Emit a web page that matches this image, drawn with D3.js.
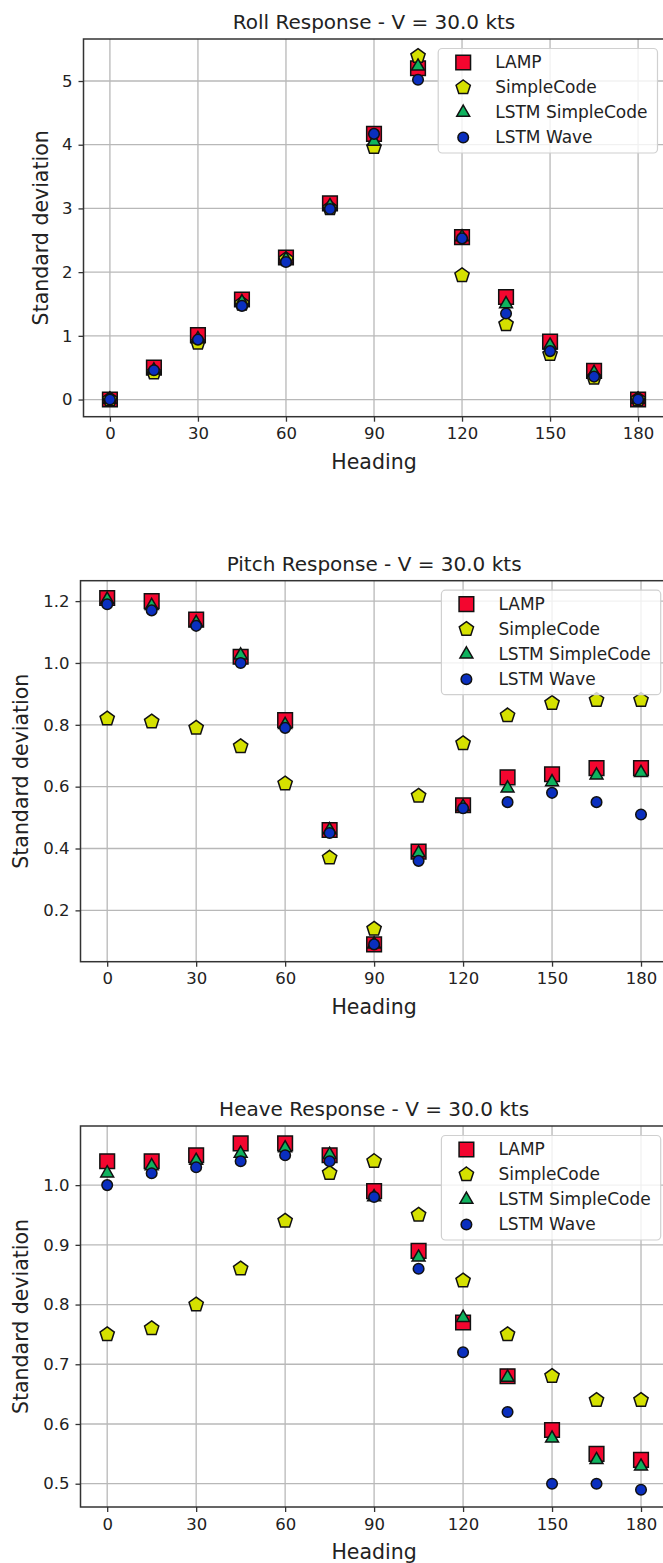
<!DOCTYPE html>
<html>
<head>
<meta charset="utf-8">
<script src="https://cdn.jsdelivr.net/npm/d3@7"></script>
<style>
  body { margin: 0; background: #fff; }
  svg { display: block; font-family: "DejaVu Sans", sans-serif; }
</style>
</head>
<body>
<svg id="chart"></svg>
<script>
// headings (deg)
var headings = [0, 15, 30, 45, 60, 75, 90, 105, 120, 135, 150, 165, 180];
var xTicks = [0, 30, 60, 90, 120, 150, 180];

var seriesNames = ["LAMP", "SimpleCode", "LSTM SimpleCode", "LSTM Wave"];

// roll
var rollLamp       = [0.0, 0.50, 1.01, 1.57, 2.23, 3.08, 4.17, 5.20, 2.55, 1.61, 0.91, 0.45, 0.0];
var rollSimple     = [0.0, 0.42, 0.89, 1.50, 2.20, 3.00, 3.96, 5.39, 1.95, 1.18, 0.71, 0.34, 0.0];
var rollLstmSimple = [0.0, 0.46, 0.95, 1.53, 2.20, 3.04, 4.05, 5.23, 2.55, 1.50, 0.85, 0.42, 0.0];
var rollLstmWave   = [0.0, 0.46, 0.94, 1.47, 2.16, 2.99, 4.17, 5.02, 2.53, 1.35, 0.76, 0.36, 0.0];
var rollTicks = [0, 1, 2, 3, 4, 5];

// pitch
var pitchLamp       = [1.21, 1.20, 1.14, 1.02, 0.815, 0.46, 0.09, 0.39, 0.54, 0.63, 0.64, 0.66, 0.66];
var pitchSimple     = [0.82, 0.81, 0.79, 0.73, 0.61, 0.37, 0.14, 0.57, 0.74, 0.83, 0.87, 0.88, 0.88];
var pitchLstmSimple = [1.205, 1.185, 1.13, 1.025, 0.80, 0.46, 0.09, 0.385, 0.535, 0.595, 0.615, 0.637, 0.645];
var pitchLstmWave   = [1.19, 1.17, 1.12, 1.00, 0.79, 0.45, 0.09, 0.36, 0.53, 0.55, 0.58, 0.55, 0.51];
var pitchTicks = [0.2, 0.4, 0.6, 0.8, 1.0, 1.2];

// heave
var heaveLamp       = [1.04, 1.04, 1.05, 1.07, 1.07, 1.05, 0.99, 0.89, 0.77, 0.68, 0.59, 0.55, 0.54];
var heaveSimple     = [0.75, 0.76, 0.80, 0.86, 0.94, 1.02, 1.04, 0.95, 0.84, 0.75, 0.68, 0.64, 0.64];
var heaveLstmSimple = [1.02, 1.032, 1.041, 1.053, 1.062, 1.051, 0.98, 0.879, 0.778, 0.678, 0.576, 0.54, 0.529];
var heaveLstmWave   = [1.00, 1.02, 1.03, 1.04, 1.05, 1.04, 0.98, 0.86, 0.72, 0.62, 0.50, 0.50, 0.49];
var heaveTicks = [0.5, 0.6, 0.7, 0.8, 0.9, 1.0];

var colors = ["#f3062f", "#d5e100", "#0fb25e", "#0a2fbf"];
var width = 663, height = 1563;

var svg = d3.select("#chart").attr("width", width).attr("height", height);

function pentagon(r) {
  var pts = [];
  for (var i = 0; i < 5; i++) {
    var a = -Math.PI / 2 + i * 2 * Math.PI / 5;
    pts.push([r * Math.cos(a), r * Math.sin(a)]);
  }
  return "M" + pts.map(function(p) { return p[0].toFixed(2) + "," + p[1].toFixed(2); }).join("L") + "Z";
}

var markers = [
  d3.symbol().type(d3.symbolSquare).size(215)(),
  pentagon(7.5),
  d3.symbol().type(d3.symbolTriangle).size(72)(),
  d3.symbol().type(d3.symbolCircle).size(88)()
];

function drawPanel(p) {
  var g = svg.append("g");
  var all = d3.merge(p.series);
  var ext = d3.extent(all), pad = (ext[1] - ext[0]) * 0.05;

  var x = d3.scaleLinear().domain([-9, 189]).range([p.left, p.right]);
  var y = d3.scaleLinear().domain([ext[0] - pad, ext[1] + pad]).range([p.bottom, p.top]);

  // grid
  g.selectAll(".gx").data(xTicks).enter().append("line")
    .attr("x1", function(d) { return x(d); }).attr("x2", function(d) { return x(d); })
    .attr("y1", p.top).attr("y2", p.bottom)
    .attr("stroke", "#b8b8b8").attr("stroke-width", 1.3);
  g.selectAll(".gy").data(p.ticks).enter().append("line")
    .attr("x1", p.left).attr("x2", p.right)
    .attr("y1", function(d) { return y(d); }).attr("y2", function(d) { return y(d); })
    .attr("stroke", "#b8b8b8").attr("stroke-width", 1.3);

  // points
  p.series.forEach(function(vals, si) {
    g.selectAll(".s" + si).data(vals).enter().append("path")
      .attr("d", markers[si])
      .attr("transform", function(d, i) { return "translate(" + x(headings[i]) + "," + y(d) + ")"; })
      .attr("fill", colors[si])
      .attr("stroke", "#111").attr("stroke-width", 1.5);
  });

  // spines
  g.append("rect")
    .attr("x", p.left).attr("y", p.top)
    .attr("width", p.right - p.left).attr("height", p.bottom - p.top)
    .attr("fill", "none").attr("stroke", "#333").attr("stroke-width", 1.5);

  // axes
  var xAxis = d3.axisBottom(x).tickValues(xTicks).tickSize(5).tickPadding(6);
  var yAxis = d3.axisLeft(y).tickValues(p.ticks).tickSize(5).tickPadding(6).tickFormat(p.fmt);
  var gx = g.append("g").attr("transform", "translate(0," + p.bottom + ")").call(xAxis);
  var gy = g.append("g").attr("transform", "translate(" + p.left + ",0)").call(yAxis);
  [gx, gy].forEach(function(a) {
    a.select(".domain").remove();
    a.selectAll("line").attr("stroke", "#333").attr("stroke-width", 1.3);
    a.selectAll("text").attr("font-size", 16.5).attr("fill", "#222")
      .attr("font-family", "DejaVu Sans");
  });

  // title and labels
  var cx = (p.left + p.right) / 2;
  g.append("text").attr("x", cx).attr("y", p.top - 17).attr("dy", "0.35em")
    .attr("text-anchor", "middle").attr("font-size", 20).attr("fill", "#222")
    .text(p.title);
  g.append("text").attr("x", cx).attr("y", p.bottom + 45).attr("dy", "0.35em")
    .attr("text-anchor", "middle").attr("font-size", 20.5).attr("fill", "#222")
    .text("Heading");
  g.append("text")
    .attr("transform", "translate(" + p.ylabX + "," + ((p.top + p.bottom) / 2) + ") rotate(-90)")
    .attr("dy", "0.35em").attr("text-anchor", "middle").attr("font-size", 20.5).attr("fill", "#222")
    .text("Standard deviation");

  // legend
  var lg = g.append("g");
  var box = lg.append("rect");
  var texts = [];
  seriesNames.forEach(function(name, i) {
    var ry = p.top + 23.5 + i * 25;
    lg.append("path").attr("d", markers[i])
      .attr("class", "lm")
      .attr("fill", colors[i]).attr("stroke", "#111").attr("stroke-width", 1.5);
    texts.push(lg.append("text").attr("y", ry).attr("dy", "0.35em")
      .attr("font-size", 17).attr("fill", "#222").text(name));
  });
  var tw = d3.max(texts, function(t) { return t.node().getComputedTextLength(); });
  var bw = 57 + tw + 10;
  var bx = p.right - 7 - bw;
  box.attr("x", bx).attr("y", p.top + 9.5).attr("width", bw).attr("height", 104.5)
    .attr("rx", 4).attr("fill", "#fff").attr("fill-opacity", 0.8)
    .attr("stroke", "#d0d0d0").attr("stroke-width", 1.2);
  lg.selectAll(".lm").attr("transform", function(d, i) {
    return "translate(" + (bx + 25) + "," + (p.top + 23.5 + i * 25) + ")";
  });
  texts.forEach(function(t) { t.attr("x", bx + 57); });
}

drawPanel({
  title: "Roll Response - V = 30.0 kts",
  series: [rollLamp, rollSimple, rollLstmSimple, rollLstmWave],
  ticks: rollTicks, fmt: d3.format("d"),
  left: 83.5, right: 664.5, top: 39, bottom: 416.7, ylabX: 41
});
drawPanel({
  title: "Pitch Response - V = 30.0 kts",
  series: [pitchLamp, pitchSimple, pitchLstmSimple, pitchLstmWave],
  ticks: pitchTicks, fmt: d3.format(".1f"),
  left: 80.5, right: 667.7, top: 580.7, bottom: 961.7, ylabX: 21
});
drawPanel({
  title: "Heave Response - V = 30.0 kts",
  series: [heaveLamp, heaveSimple, heaveLstmSimple, heaveLstmWave],
  ticks: heaveTicks, fmt: d3.format(".1f"),
  left: 80.5, right: 667.7, top: 1126, bottom: 1507, ylabX: 21
});
</script>
</body>
</html>
